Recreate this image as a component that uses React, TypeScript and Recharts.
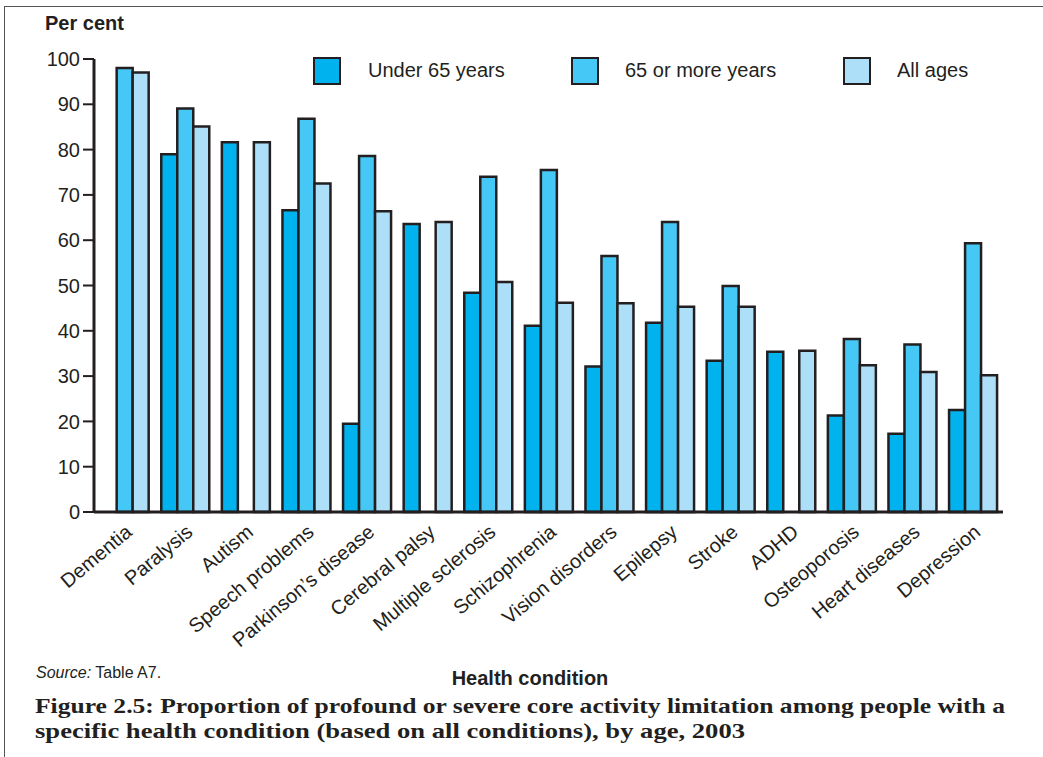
import React from 'react';
import { BarChart, Bar, XAxis, YAxis } from 'recharts';

const conditions = [
  'Dementia',
  'Paralysis',
  'Autism',
  'Speech problems',
  'Parkinson\u2019s disease',
  'Cerebral palsy',
  'Multiple sclerosis',
  'Schizophrenia',
  'Vision disorders',
  'Epilepsy',
  'Stroke',
  'ADHD',
  'Osteoporosis',
  'Heart diseases',
  'Depression',
];

const under65 = [null, 79, 81.6, 66.6, 19.5, 63.6, 48.4, 41.1, 32.1, 41.8, 33.4, 35.4, 21.3, 17.3, 22.5];
const over65 = [98, 89.1, null, 86.8, 78.6, null, 74, 75.5, 56.5, 64, 49.9, null, 38.2, 37, 59.3];
const allAges = [97, 85.1, 81.6, 72.5, 66.4, 64, 50.8, 46.2, 46.1, 45.3, 45.3, 35.6, 32.4, 30.9, 30.2];

const yTicks = [0, 10, 20, 30, 40, 50, 60, 70, 80, 90, 100];

const series = [
  { key: 'under65', name: 'Under 65 years', color: '#00b2ee' },
  { key: 'over65', name: '65 or more years', color: '#45c8f5' },
  { key: 'allAges', name: 'All ages', color: '#addff9' },
];

const data = conditions.map((name, i) => ({
  name,
  under65: under65[i],
  over65: over65[i],
  allAges: allAges[i],
}));

const ink = '#231f20';
const sans = '"Liberation Sans", Arial, Helvetica, sans-serif';
const serif = '"Liberation Serif", "Times New Roman", serif';

const XTick = ({ x, y, payload }: any) => {
  const ax = x + 9;
  const ay = y + 22;
  return (
    <text
      x={ax}
      y={ay}
      transform={`rotate(-40 ${ax} ${ay})`}
      textAnchor="end"
      fontSize={20}
      fontFamily={sans}
      fill={ink}
    >
      {payload.value}
    </text>
  );
};

// legend sits on top of the plot, positions
const legendPos = [313, 571, 843];
const legendText = [368, 625, 897];

export default function App() {
  return (
    <div
      style={{
        position: 'absolute',
        left: 0,
        top: 0,
        width: 1043,
        height: 757,
        background: '#fff',
        fontFamily: sans,
        color: ink,
        overflow: 'hidden',
      }}
    >
      <div
        style={{
          position: 'absolute',
          left: 4,
          top: 6,
          width: 1045,
          height: 760,
          borderLeft: '1.5px solid #555',
          borderTop: '1.5px solid #555',
        }}
      />
      <div style={{ position: 'absolute', left: 45, top: 12, fontSize: 20, fontWeight: 'bold' }}>
        Per cent
      </div>

      <BarChart
        width={1043}
        height={757}
        data={data}
        margin={{ top: 59, right: 40, left: 34, bottom: 45 }}
        barCategoryGap="11%"
        barGap={0}
        style={{ position: 'absolute', left: 0, top: 0 }}
      >
        <XAxis
          dataKey="name"
          interval={0}
          height={200}
          tickLine={false}
          tickSize={0}
          tickMargin={0}
          axisLine={{ stroke: ink, strokeWidth: 3 }}
          tick={<XTick />}
        />
        <YAxis
          domain={[0, 100]}
          ticks={yTicks}
          width={60}
          tickSize={11}
          tickMargin={3}
          axisLine={{ stroke: ink, strokeWidth: 3 }}
          tickLine={{ stroke: ink, strokeWidth: 2 }}
          tick={{ fontSize: 20, fill: ink, fontFamily: sans }}
        />
        {series.map((s) => (
          <Bar
            key={s.key}
            dataKey={s.key}
            name={s.name}
            fill={s.color}
            stroke={ink}
            strokeWidth={2.5}
            isAnimationActive={false}
          />
        ))}
      </BarChart>

      {series.map((s, i) => (
        <React.Fragment key={s.key}>
          <div
            style={{
              position: 'absolute',
              left: legendPos[i],
              top: 57,
              width: 24,
              height: 24,
              background: s.color,
              border: `2.5px solid ${ink}`,
            }}
          />
          <div style={{ position: 'absolute', left: legendText[i], top: 59, fontSize: 20, whiteSpace: 'nowrap' }}>
            {s.name}
          </div>
        </React.Fragment>
      ))}

      <div style={{ position: 'absolute', left: 36, top: 664, fontSize: 16, whiteSpace: 'nowrap' }}>
        <i>Source:</i> Table A7.
      </div>
      <div
        style={{
          position: 'absolute',
          left: 430,
          width: 200,
          top: 667,
          fontSize: 20,
          fontWeight: 'bold',
          textAlign: 'center',
          whiteSpace: 'nowrap',
        }}
      >
        Health condition
      </div>
      <svg width={1043} height={60} style={{ position: 'absolute', left: 0, top: 692 }}>
        <text x={35} y={21} fontFamily={serif} fontWeight="bold" fontSize={21} fill={ink} textLength={970} lengthAdjust="spacingAndGlyphs">
          Figure 2.5: Proportion of profound or severe core activity limitation among people with a
        </text>
        <text x={35} y={46} fontFamily={serif} fontWeight="bold" fontSize={21} fill={ink} textLength={710} lengthAdjust="spacingAndGlyphs">
          specific health condition (based on all conditions), by age, 2003
        </text>
      </svg>
    </div>
  );
}
